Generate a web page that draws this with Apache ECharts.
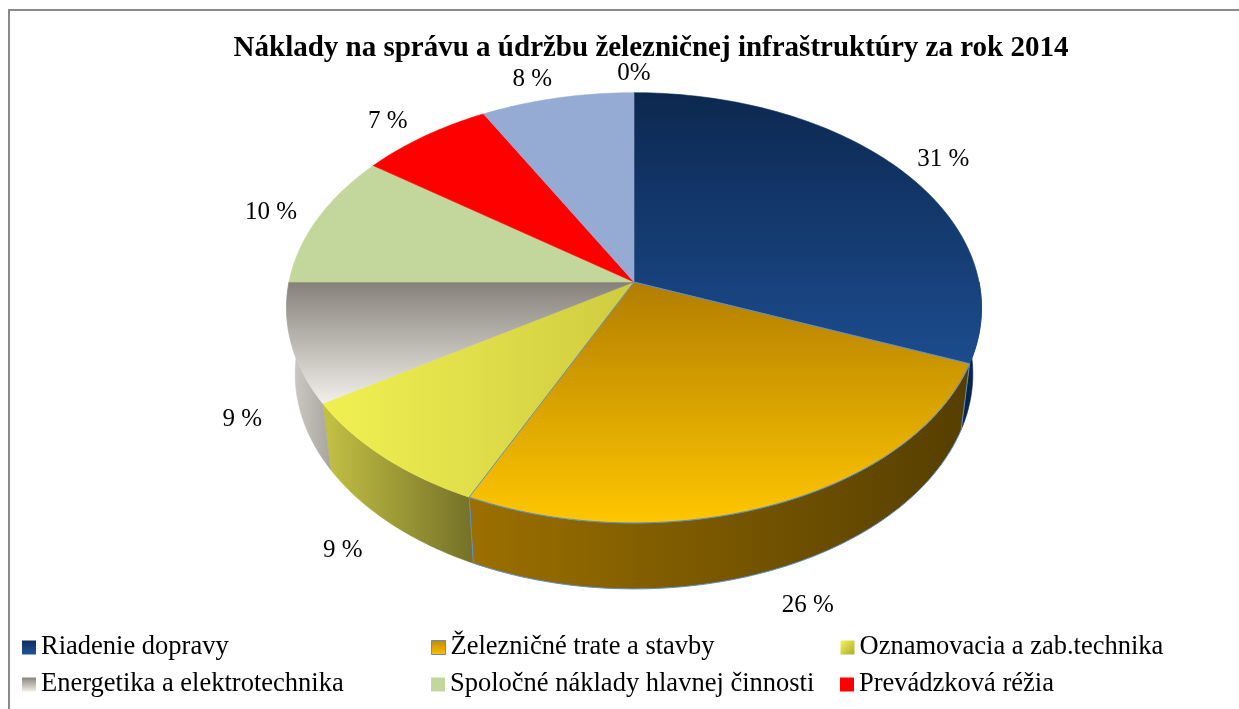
<!DOCTYPE html>
<html>
<head>
<meta charset="utf-8">
<title>Náklady na správu a údržbu železničnej infraštruktúry</title>
<script src="https://cdn.jsdelivr.net/npm/echarts@6/dist/echarts.min.js"></script>
<style>
  html, body { margin: 0; padding: 0; background: #fff; }
  #main { width: 1239px; height: 709px; }
</style>
</head>
<body>
<div id="main"></div>
<script>
// kategórie a podiely (%)
var categories = [
  'Riadenie dopravy',
  'Železničné trate a stavby',
  'Oznamovacia a zab.technika',
  'Energetika a elektrotechnika',
  'Spoločné náklady hlavnej činnosti',
  'Prevádzková réžia',
  'Ostatné náklady',
  'Ostatné'
];
var values = [31, 26, 9, 9, 10, 7, 8, 0];
var legendNames = categories.slice(0, 6);

var total = values.reduce(function (s, v) { return s + v; }, 0);
var starts = values.map(function (v, i) {
  return values.slice(0, i).reduce(function (s, x) { return s + x; }, 0);
});

var LG = echarts.graphic.LinearGradient;
function vert(a, b) { return new LG(0, 0, 0, 1, [{ offset: 0, color: a }, { offset: 1, color: b }]); }
function horiz(a, b) { return new LG(0, 0, 1, 0, [{ offset: 0, color: a }, { offset: 1, color: b }]); }

// farby vrchnej plochy
var topFill = [
  vert('#0c2850', '#1c4c8e'),
  vert('#b27d00', '#ffc700'),
  horiz('#f1f052', '#cfcb40'),
  vert('#85807a', '#f2f0ea'),
  '#c3d69b',
  '#ff0000',
  '#95abd3',
  '#4f81bd'
];
// farby bočnej steny
var sideFill = [
  '#0b244a',
  horiz('#9c7000', '#553e00'),
  horiz('#c4c244', '#747028'),
  horiz('#d3d0c9', '#a8a59e'),
  '#9fb27a',
  '#c00000',
  '#7084ab',
  '#3b6190'
];
var legendColors = [
  vert('#0e2d5c', '#21549a'),
  vert('#c08a00', '#ffc000'),
  new LG(0, 0, 1, 1, [{ offset: 0, color: '#f3f35a' }, { offset: 1, color: '#b0ab2c' }]),
  vert('#8a857c', '#f0eee8'),
  '#c3d69b',
  '#ff0000'
];

// geometria "3D" koláča
var CX = 634, CY = 282, RX = 345, RY = 212, K = 0.12, DEPTH = 66, BOTTOM_X = 0.975;

function clamp(v, a, b) { return Math.max(a, Math.min(b, v)); }

function proj(a, bottom) {
  var X = Math.sin(a), Z = -Math.cos(a);
  var s = 1 / (1 - K * Z);
  var dx = RX * X * s, dy = RY * Z * s;
  if (bottom) return [CX + dx * BOTTOM_X, CY + dy + DEPTH];
  return [CX + dx, CY + dy];
}

function arc(a0, a1, bottom) {
  var n = Math.max(2, Math.ceil((a1 - a0) / 0.02));
  var pts = [];
  for (var k = 0; k <= n; k++) pts.push(proj(a0 + (a1 - a0) * k / n, bottom));
  return pts;
}

function labelPos(a) {
  var X = Math.sin(a), Z = -Math.cos(a);
  var s = 1 / (1 - K * Z);
  return [
    CX + RX * X * s * 1.09 + 18 * clamp(X * 4, -1, 1),
    CY + RY * Z * s * (Z > 0 ? 1.16 : 1.1) + DEPTH * clamp(Z * 4, 0, 1)
  ];
}

function renderSlice(params, api) {
  var i = params.seriesIndex;
  var v = api.value(0), st = api.value(1);
  var a0 = st / total * Math.PI * 2;
  var a1 = (st + v) / total * Math.PI * 2;
  var edge = i === 1 ? '#5b8fd0' : null;
  var children = [];

  // bočná stena (len predná polovica)
  var b0 = Math.max(a0, Math.PI / 2), b1 = Math.min(a1, Math.PI * 1.5);
  if (b1 > b0) {
    var pts = arc(b0, b1, false).concat(arc(b0, b1, true).reverse());
    children.push({
      type: 'polygon',
      shape: { points: pts },
      style: { fill: sideFill[i], stroke: edge || sideFill[i], lineWidth: edge ? 1 : 0.6 }
    });
  }
  if (v > 0) {
    children.push({
      type: 'polygon',
      shape: { points: [[CX, CY]].concat(arc(a0, a1, false)) },
      style: { fill: topFill[i], stroke: edge || topFill[i], lineWidth: edge ? 1 : 0.6 }
    });
  }
  var lp = labelPos((a0 + a1) / 2);
  children.push({
    type: 'text',
    x: lp[0],
    y: lp[1],
    style: {
      text: v === 0 ? '0%' : v + ' %',
      font: '25px "Liberation Serif"',
      fill: '#000',
      align: 'center',
      verticalAlign: 'middle'
    }
  });
  return { type: 'group', children: children };
}

var series = categories.map(function (name, i) {
  return {
    name: name,
    type: 'custom',
    coordinateSystem: 'none',
    z: i === 1 ? 3 : 2,
    silent: true,
    itemStyle: { color: typeof topFill[i] === 'string' ? topFill[i] : sideFill[i] },
    renderItem: renderSlice,
    data: [[values[i], starts[i]]]
  };
});

var chart = echarts.init(document.getElementById('main'));
chart.setOption({
  animation: false,
  backgroundColor: '#fff',
  title: {
    text: 'Náklady na správu a údržbu železničnej infraštruktúry za rok 2014',
    left: 646,
    top: 29,
    textAlign: 'center',
    textStyle: { fontFamily: 'Liberation Serif', fontSize: 29, fontWeight: 'bold', color: '#000' }
  },
  graphic: [{
    type: 'rect',
    shape: { x: 9, y: 10, width: 1240, height: 710 },
    style: { fill: 'none', stroke: '#8a8a8a', lineWidth: 2 },
    silent: true
  }],
  legend: {
    left: 22,
    top: 629,
    width: 1230,
    padding: 0,
    itemGap: 0,
    itemWidth: 14,
    itemHeight: 14,
    icon: 'rect',
    selectedMode: false,
    data: legendNames.map(function (n, i) {
      return {
        name: n,
        itemStyle: i === 1
          ? { color: legendColors[i], borderColor: '#5b8fd0', borderWidth: 1 }
          : { color: legendColors[i] }
      };
    }),
    formatter: function (name) { return '{a|' + name + '}'; },
    textStyle: {
      backgroundColor: 'transparent',
      rich: {
        a: { width: 390, height: 37, lineHeight: 37, fontSize: 26.5, fontFamily: 'Liberation Serif', color: '#000' }
      }
    }
  },
  series: series
});
</script>
</body>
</html>
